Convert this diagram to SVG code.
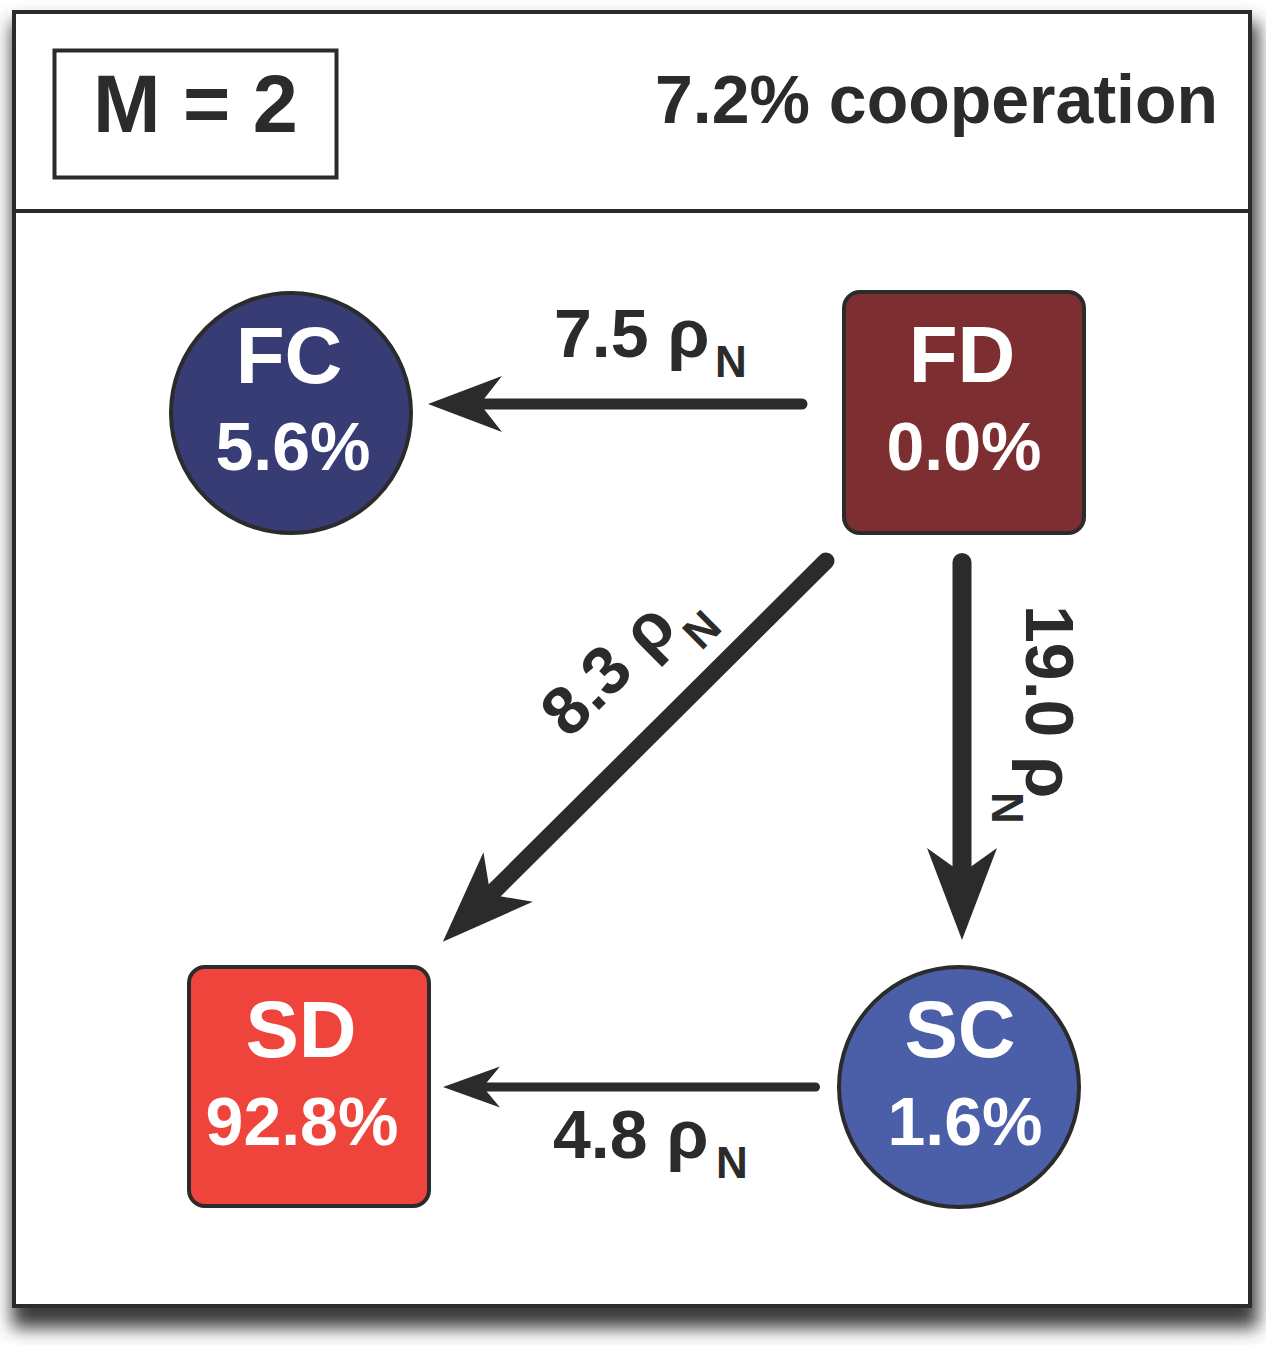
<svg xmlns="http://www.w3.org/2000/svg" width="1266" height="1345" viewBox="0 0 1266 1345">
  <style>
    .txt { font-family: "Liberation Sans", Arial, Helvetica, sans-serif; font-weight: bold; }
    .dark { fill: #2b2b2b; }
    .white { fill: #ffffff; }
    .node { stroke: #2b2b2b; stroke-width: 4; }
    .conn { stroke: #2b2b2b; fill: none; stroke-linecap: round; }
    .head { fill: #2b2b2b; }
  </style>
  <defs>
    <filter id="shadow" x="-10%" y="-10%" width="120%" height="120%">
      <feGaussianBlur stdDeviation="9"/>
    </filter>
    <marker id="ah-a" markerUnits="userSpaceOnUse" viewBox="-30 -35 90 70" refX="0" refY="0" markerWidth="90" markerHeight="70" orient="auto" overflow="visible">
      <path class="head" d="M52,0 L-22,-28 L0,0 L-22,28 Z"/>
    </marker>
    <marker id="ah-b" markerUnits="userSpaceOnUse" viewBox="-25 -25 70 50" refX="0" refY="0" markerWidth="70" markerHeight="50" orient="auto" overflow="visible">
      <path class="head" d="M40,0 L-17,-20.5 L0,0 L-17,20.5 Z"/>
    </marker>
    <marker id="ah-c" markerUnits="userSpaceOnUse" viewBox="-30 -40 100 80" refX="0" refY="0" markerWidth="100" markerHeight="80" orient="auto" overflow="visible">
      <path class="head" d="M67,0 L-25,-35 L0,0 L-25,35 Z"/>
    </marker>
  </defs>

  <rect x="0" y="0" width="1266" height="1345" fill="#ffffff"/>
  <!-- shadow -->
  <rect x="12" y="22" width="1246" height="1306" fill="#3a3a3a" filter="url(#shadow)"/>

  <!-- frame -->
  <g id="frame">
    <rect x="14" y="12" width="1236" height="1294" fill="#ffffff" stroke="#2b2b2b" stroke-width="4"/>
    <line x1="14" y1="211" x2="1250" y2="211" stroke="#2b2b2b" stroke-width="4"/>
  </g>

  <g id="header-m">
    <rect x="54.5" y="50.5" width="282" height="127" fill="#ffffff" stroke="#2b2b2b" stroke-width="4"/>
    <text class="txt dark" x="195.5" y="132" font-size="81" text-anchor="middle">M = 2</text>
  </g>
  <g id="header-coop">
    <text class="txt dark" x="1218" y="123" font-size="68" text-anchor="end">7.2% cooperation</text>
  </g>

  <!-- connectors -->
  <g id="connectors">
    <line class="conn" x1="802" y1="404" x2="480" y2="404" stroke-width="11" marker-end="url(#ah-a)"/>
    <line class="conn" x1="815.5" y1="1087" x2="483" y2="1087" stroke-width="9" marker-end="url(#ah-b)"/>
    <line class="conn" x1="962" y1="562.5" x2="962" y2="873" stroke-width="19" marker-end="url(#ah-c)"/>
    <line class="conn" x1="826" y1="561" x2="490.4" y2="894.6" stroke-width="17" marker-end="url(#ah-c)"/>

    <text class="txt dark" font-size="68" transform="translate(554,357)">7.5 ρ<tspan x="161" y="20" font-size="44">N</tspan></text>
    <text class="txt dark" font-size="68" transform="translate(553,1158)">4.8 ρ<tspan x="163" y="20" font-size="44">N</tspan></text>
    <text class="txt dark" font-size="68" transform="translate(1026,605) rotate(90)">19.0 ρ<tspan x="187" y="34" font-size="44">N</tspan></text>
    <text class="txt dark" font-size="68" transform="translate(569,740) rotate(-45)">8.3 ρ<tspan x="156" y="31" font-size="44">N</tspan></text>
  </g>

  <!-- nodes -->
  <g id="node-FC">
    <circle class="node" cx="291" cy="413" r="120" fill="#383c74"/>
    <text class="txt white" x="289" y="383" font-size="80" text-anchor="middle">FC</text>
    <text class="txt white" x="293" y="470" font-size="68" text-anchor="middle">5.6%</text>
  </g>
  <g id="node-FD">
    <rect class="node" x="844" y="292" width="240" height="241" rx="16" fill="#7d2e30"/>
    <text class="txt white" x="962" y="382" font-size="80" text-anchor="middle">FD</text>
    <text class="txt white" x="964" y="470" font-size="68" text-anchor="middle">0.0%</text>
  </g>
  <g id="node-SD">
    <rect class="node" x="189" y="967" width="240" height="239" rx="16" fill="#ee443b"/>
    <text class="txt white" x="301" y="1057" font-size="80" text-anchor="middle">SD</text>
    <text class="txt white" x="302" y="1145" font-size="68" text-anchor="middle">92.8%</text>
  </g>
  <g id="node-SC">
    <circle class="node" cx="959" cy="1087" r="120" fill="#4a5fa8"/>
    <text class="txt white" x="960" y="1057" font-size="80" text-anchor="middle">SC</text>
    <text class="txt white" x="965" y="1145" font-size="68" text-anchor="middle">1.6%</text>
  </g>
</svg>
